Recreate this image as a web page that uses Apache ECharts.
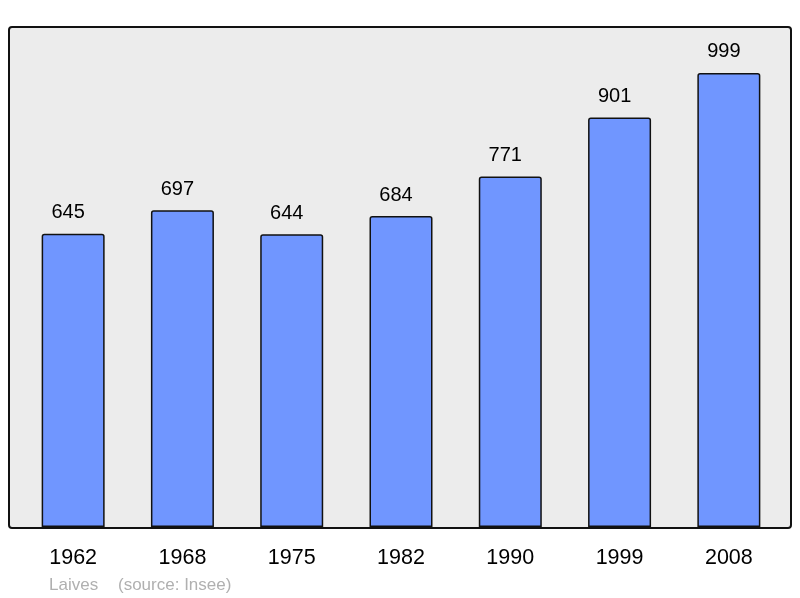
<!DOCTYPE html>
<html><head><meta charset="utf-8">
<script src="https://cdn.jsdelivr.net/npm/echarts@6/dist/echarts.min.js"></script>
<style>html,body{margin:0;padding:0;background:#fff}#c{width:800px;height:598px}</style>
</head><body><div id="c"></div>
<script>
const years = ['1962','1968','1975','1982','1990','1999','2008'];
const population = [645, 697, 644, 684, 771, 901, 999];
const place = 'Laives';
const source = '(source: Insee)';

const chart = echarts.init(document.getElementById('c'), null, {renderer:'canvas'});
chart.setOption({
  animation:false,
  backgroundColor:'#ffffff',
  textStyle:{fontFamily:'Liberation Sans, Arial, sans-serif'},
  grid:{left:18.5, right:16.5, top:27, bottom:71},
  graphic:[
    {type:'rect', z:-10, shape:{x:9, y:27, width:782, height:501, r:3},
     style:{fill:'#ececec', stroke:'#111', lineWidth:2}},
    {type:'text', left:49, top:576.5, style:{text:place, fill:'#b0b0b0', font:'17px "Liberation Sans", Arial, sans-serif'}},
    {type:'text', left:118, top:576.5, style:{text:source, fill:'#b0b0b0', font:'17px "Liberation Sans", Arial, sans-serif'}}
  ],
  xAxis:{type:'category', data:years,
    axisLine:{show:false}, axisTick:{show:false},
    axisLabel:{color:'#000', fontSize:21.5, margin:20, fontFamily:'Liberation Sans, Arial, sans-serif'}},
  yAxis:{type:'value', min:0, max:1100, show:false, splitLine:{show:false}},
  series:[{type:'bar', data:population, barWidth:63,
    itemStyle:{color:'#7096ff', borderColor:'#111', borderWidth:1.5, borderRadius:[2,2,0,0]},
    label:{show:true, position:'top', distance:11, offset:[-5,0], color:'#000', fontSize:20, fontFamily:'Liberation Sans, Arial, sans-serif'}}]
});
</script></body></html>
